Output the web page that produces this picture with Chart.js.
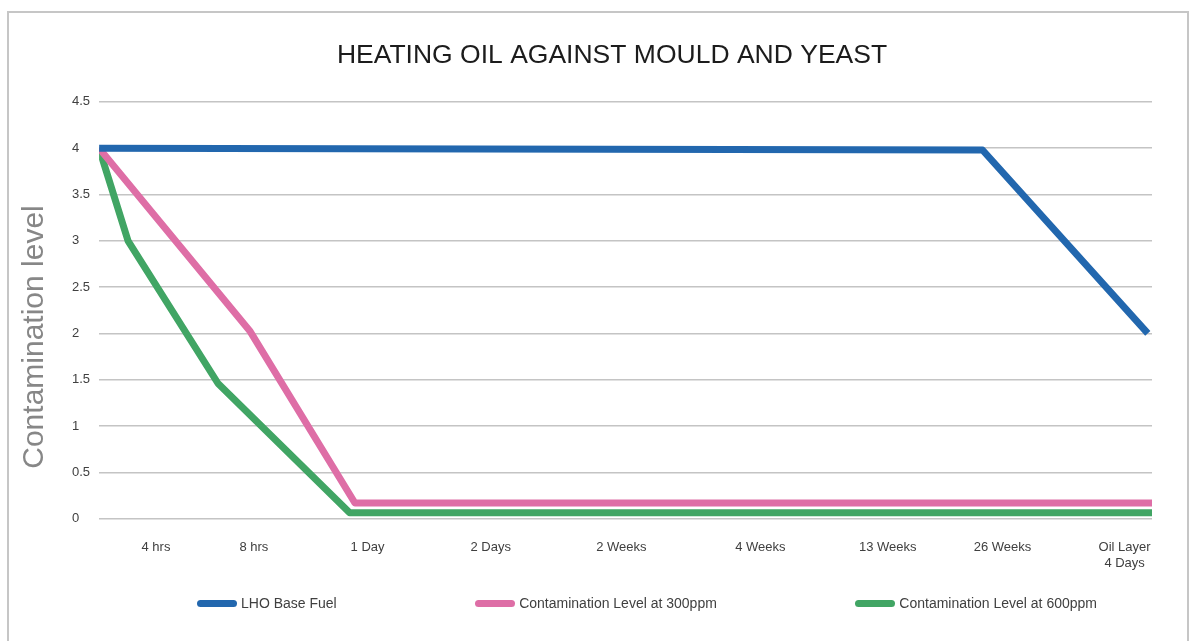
<!DOCTYPE html>
<html lang="en">
<head>
<meta charset="utf-8">
<title>Heating oil against mould and yeast</title>
<script src="https://cdn.jsdelivr.net/npm/chart.js@4.4.1/dist/chart.umd.min.js"></script>
<style>
  html, body { margin: 0; padding: 0; background: #fff; overflow: hidden; }
  #frame {
    position: absolute; left: 7px; top: 11px; width: 1178px; height: 700px;
    border: 2px solid #c6c6c6; border-bottom: none;
  }
  #wrap { position: absolute; left: 0; top: 0; width: 1192px; height: 641px; }
  #legend {
    position: absolute; left: 197px; top: 595px; width: 900px;
    display: flex; justify-content: space-between; align-items: center;
    font: 14px "Liberation Sans", Arial, sans-serif; color: #404040;
  }
  .lg-item { display: flex; align-items: center; white-space: nowrap; }
  .lg-swatch { width: 40px; height: 7px; border-radius: 4px; margin-right: 4px; }
</style>
</head>
<body>
<div id="frame"></div>
<div id="wrap"><canvas id="c"></canvas></div>
<div id="legend"></div>
<script>
"use strict";

const chartTitle = "HEATING OIL AGAINST MOULD AND YEAST";
const yTitle = "Contamination level";
const seriesNames = [
  "LHO Base Fuel",
  "Contamination Level at 300ppm",
  "Contamination Level at 600ppm",
];
const seriesColors = ["#2267ae", "#de6ea6", "#41a564"];

// x: position 0..100 along the time axis (the axis is not to scale)
const xTickPos = [5.4, 14.7, 25.5, 37.2, 49.6, 62.8, 74.9, 85.8, 97.4];
const xTickLabels = [
  "4 hrs", "8 hrs", "1 Day", "2 Days", "2 Weeks",
  "4 Weeks", "13 Weeks", "26 Weeks", ["Oil Layer", "4 Days"],
];

const baseX = [0, 83.9, 99.6];
const baseY = [4, 3.98, 2];
const ppm300X = [0, 14.3, 24.3, 100];
const ppm300Y = [4, 2.03, 0.17, 0.17];
const ppm600X = [0, 2.75, 11.3, 23.8, 100];
const ppm600Y = [4, 3, 1.46, 0.065, 0.065];

const yMin = 0;
const yMax = 4.5;
const yStep = 0.5;

const FONT = '"Liberation Sans", Arial, sans-serif';

function toPoints(xs, ys) {
  return xs.map((x, i) => ({ x: x, y: ys[i] }));
}

function lineSet(i, xs, ys) {
  return {
    label: seriesNames[i],
    data: toPoints(xs, ys),
    borderColor: seriesColors[i],
    backgroundColor: seriesColors[i],
    borderWidth: 7,
    borderJoinStyle: "round",
    pointRadius: 0,
    tension: 0,
    fill: false,
  };
}

/** vertical axis title, drawn lower than the plot centre like the original */
const yTitlePlugin = {
  id: "yTitle",
  afterDraw(chart) {
    const ctx = chart.ctx;
    ctx.save();
    ctx.translate(35, 337);
    ctx.rotate(-Math.PI / 2);
    ctx.font = "30px " + FONT;
    ctx.fillStyle = "#878787";
    ctx.textAlign = "center";
    ctx.textBaseline = "middle";
    ctx.fillText(yTitle, 0, 0);
    ctx.restore();
  },
};

/** legend as HTML so the items can be spread like the original */
const htmlLegend = {
  id: "htmlLegend",
  afterUpdate(chart) {
    const box = document.getElementById("legend");
    box.innerHTML = "";
    const items = chart.options.plugins.legend.labels.generateLabels(chart);
    items.forEach((it) => {
      const row = document.createElement("div");
      row.className = "lg-item";
      const sw = document.createElement("span");
      sw.className = "lg-swatch";
      sw.style.background = it.strokeStyle;
      const txt = document.createElement("span");
      txt.textContent = it.text;
      row.appendChild(sw);
      row.appendChild(txt);
      box.appendChild(row);
    });
  },
};

Chart.defaults.font.family = FONT;

new Chart(document.getElementById("c"), {
  type: "line",
  data: {
    datasets: [
      lineSet(0, baseX, baseY),
      lineSet(1, ppm300X, ppm300Y),
      lineSet(2, ppm600X, ppm600Y),
    ],
  },
  plugins: [yTitlePlugin, htmlLegend],
  options: {
    responsive: true,
    maintainAspectRatio: false,
    animation: false,
    layout: { padding: { left: 72, right: 40, top: 0, bottom: 49 } },
    plugins: {
      legend: { display: false },
      tooltip: { enabled: false },
      title: {
        display: true,
        text: chartTitle,
        color: "#1c1c1c",
        font: { size: 26.5, weight: "normal" },
        padding: { top: 40, bottom: 30 },
      },
    },
    scales: {
      x: {
        type: "linear",
        min: 0,
        max: 100,
        grid: { display: false, drawTicks: false },
        border: { display: false },
        afterBuildTicks(scale) {
          scale.ticks = xTickPos.map((v) => ({ value: v }));
        },
        ticks: {
          color: "#404040",
          font: { size: 13 },
          padding: 21,
          autoSkip: false,
          maxRotation: 0,
          callback: (v, i) => xTickLabels[i],
        },
      },
      y: {
        min: yMin,
        max: yMax,
        grid: { color: "#c4c4c4", lineWidth: 1.5, drawTicks: false },
        border: { display: false },
        ticks: {
          stepSize: yStep,
          color: "#404040",
          font: { size: 13 },
          padding: 4.5,
          crossAlign: "far",
          callback: (v) => String(v),
        },
      },
    },
  },
});
</script>
</body>
</html>
